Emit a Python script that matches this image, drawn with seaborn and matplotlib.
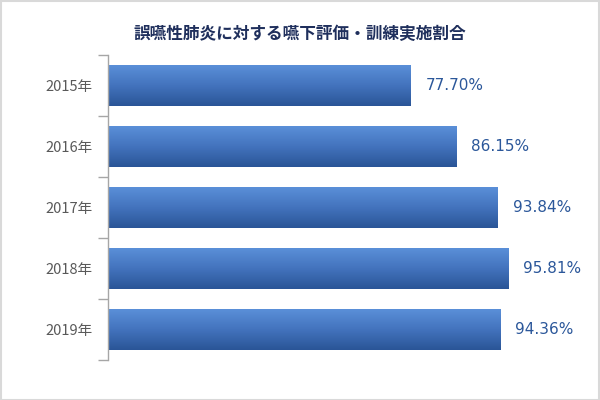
import numpy as np
import pandas as pd
import matplotlib
matplotlib.use("Agg")
import matplotlib.pyplot as plt
from matplotlib.colors import LinearSegmentedColormap
from matplotlib.patches import Rectangle
import seaborn as sns

years = ["2015年", "2016年", "2017年", "2018年", "2019年"]
rates = [77.70, 86.15, 93.84, 95.81, 94.36]
value_labels = ["77.70%", "86.15%", "93.84%", "95.81%", "94.36%"]
title = "誤嚥性肺炎に対する嚥下評価・訓練実施割合"

sns.set_theme(style="white")
plt.rcParams["font.family"] = ["Noto Sans CJK JP", "DejaVu Sans"]

df = pd.DataFrame({"year": years, "rate": rates})

fig = plt.figure(figsize=(6, 4), dpi=100)
ax = fig.add_axes([108 / 600, 40 / 400, 452 / 600, 305 / 400])

sns.barplot(data=df, x="rate", y="year", orient="h", ax=ax, width=0.656,
            color="#3f6fb6", saturation=1, errorbar=None)

xmin, xmax = 21.43, 21.43 + 452 / 5.38
ylim = (4.5, -0.5)

cmap = LinearSegmentedColormap.from_list("bar", ["#5a8fd8", "#4373bd", "#2a5597"])
grad = np.linspace(0, 1, 64).reshape(-1, 1)
for p in ax.patches:
    x0, y0, w, h = p.get_x(), p.get_y(), p.get_width(), p.get_height()
    x1 = x0 + w
    x0 = max(x0, xmin)
    ax.imshow(grad, extent=(x0, x1, y0 + h, y0),
              origin="upper", aspect="auto", cmap=cmap, zorder=2,
              interpolation="bilinear")
    p.set_facecolor("none")
    p.set_edgecolor("none")

ax.set_xlim(xmin, xmax)
ax.set_ylim(*ylim)

for i, (v, lab) in enumerate(zip(rates, value_labels)):
    ax.text(v + 2.8, i, lab, ha="left", va="center", fontsize=11,
            color="#2b579a", family=["DejaVu Sans"], zorder=3)

# axes styling
for s in ["top", "right", "bottom"]:
    ax.spines[s].set_visible(False)
ax.spines["left"].set_color("#a6a6a6")
ax.spines["left"].set_linewidth(1)
ax.set_xticks([])
ax.set_xlabel("")
ax.set_ylabel("")
ax.set_yticks(range(len(years)))
ax.set_yticklabels(years, fontsize=10.5, color="#595959")
ax.tick_params(axis="y", which="major", left=True, length=0, pad=11)
ax.set_yticks(np.arange(-0.5, len(years), 1.0), minor=True)
ax.tick_params(axis="y", which="minor", left=True, length=7, width=1,
               color="#a6a6a6")
ax.set_facecolor("none")

fig.text(0.5, 1 - 34 / 400, title, ha="center", va="center", fontsize=12,
         fontweight="bold", color="#1f2f5c")

fig.patches.append(Rectangle((0.5 / 600, 0.5 / 400), 598.5 / 600, 398.5 / 400,
                             transform=fig.transFigure, fill=False,
                             edgecolor="#d9d9d9", linewidth=1.5))

fig.savefig("out.png", dpi=100)
